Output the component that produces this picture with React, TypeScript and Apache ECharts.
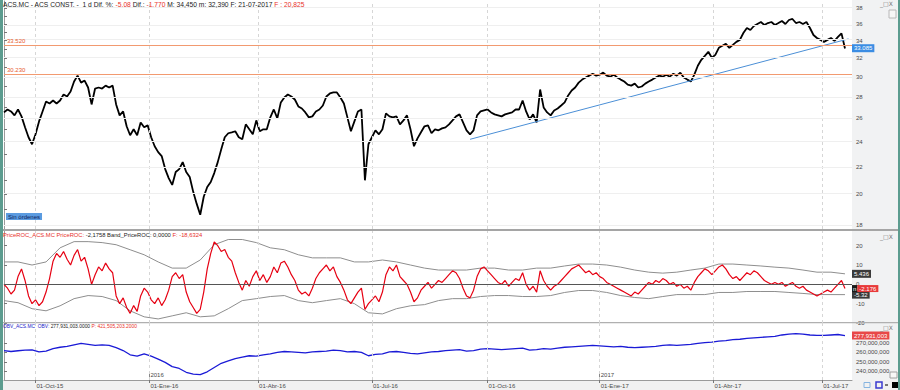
import React, { useEffect, useRef } from 'react';
import * as echarts from 'echarts';

const FONT = '"Liberation Sans", Arial, sans-serif';

// X axis (trading-day index)
const quarterIdx = [18, 83, 145, 210, 276, 340, 405, 467];
const quarterLabels = ['01-Oct-15', '01-Ene-16', '01-Abr-16', '01-Jul-16', '01-Oct-16', '01-Ene-17', '01-Abr-17', '01-Jul-17'];
const yearIdx = [83, 340];
const yearLabels = ['2016', '2017'];

// Price (close, every 2 trading days)
const priceStep = 2;
const priceClose = [
  26.54, 26.81, 26.63, 26.27, 26.81, 26.18, 25.21, 24.36, 23.78, 24.61,
  25.73, 26.63, 27.56, 27.37, 27.65, 27.37, 27.65, 28.23, 28.04, 28.52,
  29.52, 30.13, 29.41, 29.62, 28.92, 27.28, 28.82, 28.92, 28.82, 29.11,
  28.92, 29.11, 27.28, 26.27, 26.63, 25.30, 24.53, 25.04, 24.53, 25.64,
  25.21, 25.38, 24.36, 23.62, 23.14, 22.83, 21.83, 21.16, 20.67, 21.61,
  21.83, 22.36, 21.61, 21.24, 20.18, 19.36, 18.65, 19.84, 20.52, 20.88,
  21.53, 22.36, 23.38, 24.36, 24.70, 24.78, 24.87, 24.36, 24.19, 25.47,
  25.04, 24.61, 25.82, 24.87, 25.04, 25.04, 26.09, 26.81, 26.00, 27.47,
  27.94, 28.23, 28.04, 27.75, 27.09, 26.90, 26.54, 26.09, 26.18, 26.63,
  26.81, 27.18, 28.04, 28.33, 28.43, 28.43, 27.94, 27.37, 26.09, 24.87,
  25.73, 26.63, 26.81, 21.00, 23.78, 24.36, 24.95, 24.61, 25.04, 26.45,
  26.18, 26.09, 26.18, 25.47, 25.82, 26.27, 25.04, 23.62, 24.27, 24.78,
  25.30, 25.38, 24.70, 25.04, 24.95, 25.12, 25.21, 25.47, 25.82, 26.18,
  26.36, 25.64, 24.95, 24.61, 24.95, 26.27, 26.63, 26.72, 26.81, 26.54,
  26.36, 26.27, 26.18, 26.36, 26.45, 26.54, 26.81, 26.81, 27.65, 26.63,
  25.91, 26.36, 25.64, 28.72, 27.00, 26.54, 26.27, 26.72, 26.90, 27.18,
  27.47, 28.14, 28.62, 28.92, 29.41, 29.72, 29.93, 30.13, 30.33, 30.13,
  30.23, 30.44, 30.13, 30.02, 30.23, 29.93, 29.72, 29.52, 29.21, 29.11,
  29.31, 28.92, 29.02, 29.31, 29.52, 29.72, 29.93, 30.13, 30.02, 30.23,
  30.02, 30.33, 30.13, 30.44, 29.93, 29.72, 29.52, 30.23, 31.17, 31.82,
  32.26, 32.71, 32.04, 32.37, 33.16, 33.39, 33.62, 33.16, 33.50, 33.85,
  34.08, 34.90, 35.51, 35.26, 35.75, 36.00, 36.25, 35.88, 36.12, 36.25,
  35.88, 36.12, 36.38, 36.00, 36.50, 36.63, 36.12, 36.25, 36.00, 36.25,
  35.51, 34.66, 34.31, 34.08, 33.85, 34.08, 34.31, 33.96, 34.43, 34.86, 33.085,
];
const priceTicks = [18, 20, 22, 24, 26, 28, 30, 32, 34, 36, 38];
const priceMinorTicks = [19, 21, 23, 25, 27, 29, 31, 33, 35, 37];
const priceLevels = [33.52, 30.23];
const trendIdx = [266, 482];
const trendPrice = [24.19, 34.2];
const lastPrice = 33.085;

// PriceROC (every 2 trading days) and its bands (every 8)
const rocStep = 2;
const rocValues = [
  0, -2, -5, -3, 4, 8, 2, -6, -10, -8,
  -11, -9, -4, 3, 12, 16, 14, 17, 13, 10,
  15, 18, 12, 14, 8, 0, 5, 9, 7, 11,
  8, 6, -6, -10, -7, -12, -15, -11, -14, -6,
  -2, -4, -8, -10, -7, -11, -8, -3, 4, 6,
  3, 5, -4, -9, -12, -15, -13, -4, 8, 16,
  22, 20, 17, 18, 14, 12, 6, 1, -3, 2,
  -1, 4, 7, 2, 5, 1, 4, 9, 6, 11,
  12, 9, 5, 2, -3, -5, -4, -6, -2, 3,
  6, 8, 10, 7, 9, 4, 1, -3, -8, -10,
  -7, -4, -2, -13, -10, -8, -6, -9, -4, 5,
  9, 7, 10, 4, 2, 0, -4, -9, -7, -3,
  -1, 1, -2, 0, 2, 1, 3, 5, 7, 6,
  3, -2, -6, -7, -3, 4, 8, 9, 7, 5,
  3, 1, 0, 2, -1, 1, 3, 2, 6, 0,
  -3, -1, -4, 7, 2, -1, -3, -1, 0, 2,
  4, 6, 8, 9, 10, 8, 6, 7, 5, 6,
  4, 3, 1, 0, -1, -2, -3, -4, -5, -6,
  -4, -5, -3, -1, 1, 0, 2, 1, 3, 2,
  0, 1, -1, 0, -2, -1, -3, 1, 4, 6,
  8, 7, 5, 7, 9, 10, 8, 5, 3, 4,
  2, 4, 6, 5, 7, 6, 4, 2, 1, 0,
  1, 0, 1, -1, 0, 1, -1, -2, -1, -3,
  -4, -5, -6, -5, -4, -3, -4, -2, 0, 2, -2.176,
];
const bandStep = 8;
const bandUpper = [
  11.6, 11.6, 10.0, 11.6, 18.9, 22.1, 22.1, 21.6, 20.5, 17.9,
  15.3, 11.6, 8.4, 8.4, 12.6, 20.5, 23.2, 23.2, 21.6, 18.9,
  17.9, 15.3, 13.7, 13.7, 13.7, 11.6, 11.6, 12.6, 11.6, 10.0,
  8.4, 7.4, 7.4, 7.4, 8.4, 8.4, 7.4, 7.4, 8.4, 8.4,
  9.5, 10.5, 10.5, 10.0, 8.9, 7.4, 6.3, 5.8, 6.3, 7.4,
  8.4, 10.5, 10.5, 10.0, 9.5, 8.9, 8.4, 7.4, 6.3, 6.3, 5.436,
];
const bandLower = [
  -8.4, -9.5, -12.6, -13.7, -11.1, -7.4, -5.8, -6.3, -8.4, -13.7,
  -16.8, -17.9, -16.3, -14.7, -16.8, -16.3, -12.6, -8.4, -7.4, -6.3,
  -5.8, -8.4, -9.5, -8.4, -7.4, -10.0, -14.7, -15.3, -12.6, -11.1,
  -10.5, -8.4, -7.4, -7.4, -6.3, -5.8, -5.8, -6.3, -6.3, -5.8,
  -4.2, -3.2, -3.2, -4.2, -5.8, -6.8, -7.4, -6.3, -5.3, -5.3,
  -5.3, -4.2, -4.2, -3.7, -3.7, -3.7, -4.2, -4.7, -5.3, -5.3, -5.32,
];
const rocTicks = [-20, -10, 0, 10, 20];

// OBV in millions (every 4 trading days)
const obvStep = 4;
const obvMillions = [
  262.0, 261.0, 261.8, 262.5, 262.8, 260.5, 261.5, 264.0, 265.5, 266.5,
  268.0, 269.5, 268.5, 267.5, 268.0, 267.5, 265.0, 262.0, 257.5, 256.0,
  258.5, 256.0, 253.0, 249.5, 245.0, 243.0, 239.0, 237.0, 236.5, 239.5,
  244.0, 248.5, 251.0, 253.5, 255.0, 256.5, 256.0, 257.5, 258.5, 260.0,
  261.0, 260.5, 260.0, 259.5, 260.5, 261.0, 261.5, 262.5, 262.0, 260.5,
  261.0, 260.0, 256.5, 258.0, 258.5, 260.5, 261.0, 260.0, 259.0, 258.5,
  259.5, 260.5, 261.0, 262.0, 262.5, 263.0, 261.5, 262.0, 263.5, 264.0,
  263.5, 263.0, 263.5, 264.0, 264.5, 262.5, 263.0, 264.0, 263.5, 264.5,
  265.5, 266.0, 266.5, 267.0, 267.5, 267.0, 266.5, 266.0, 266.5, 265.5,
  265.0, 265.5, 266.0, 266.5, 267.5, 268.0, 267.5, 268.0, 268.5, 269.5,
  270.5, 271.0, 272.0, 272.5, 273.5, 274.0, 275.0, 275.5, 276.0, 276.5,
  277.0, 278.5, 279.5, 280.0, 279.5, 278.5, 278.0, 278.0, 278.5, 279.0, 277.931003,
];
const obvTicks = [240, 250, 260, 270];

const L = Math.log;
const X_MAX = 484;

const badge = (text: string, bg: string) => ({
  show: true,
  position: 'end',
  distance: 0,
  formatter: text,
  color: '#ffffff',
  backgroundColor: bg,
  padding: [1, 2, 0, 2],
  fontSize: 6,
  fontFamily: FONT,
  lineHeight: 7,
});
const clearLine = { color: 'rgba(0,0,0,0)', width: 0 };
const vGrid = quarterIdx.map((v) => ({ xAxis: v, lineStyle: { color: '#d6d6d6', type: [3, 3], width: 1 } }));

const axisLabelBase = { fontSize: 6, color: '#4a4a4a', fontFamily: FONT, margin: 4 };

export default function App() {
  const ref = useRef<HTMLDivElement>(null);
  useEffect(() => {
    if (!ref.current) return;
    const chart = echarts.init(ref.current, undefined, { renderer: 'svg' });
    const yAxisCommon = {
      type: 'value',
      position: 'right',
      axisLine: { show: true, lineStyle: { color: '#9a9a9a', width: 1 } },
      splitLine: { show: false },
    };
    const option: any = {
      animation: false,
      backgroundColor: '#ffffff',
      textStyle: { fontFamily: FONT },
      grid: [
        { left: 4, right: 48, top: 1, height: 228, outerBoundsMode: 'none' },
        { left: 4, right: 48, top: 231, height: 92, outerBoundsMode: 'none' },
        { left: 4, right: 48, top: 323, height: 57, outerBoundsMode: 'none' },
      ],
      xAxis: [
        { gridIndex: 0, type: 'value', min: 0, max: X_MAX, show: false },
        { gridIndex: 1, type: 'value', min: 0, max: X_MAX, show: false },
        {
          gridIndex: 2, type: 'value', min: 0, max: X_MAX, position: 'bottom',
          axisLine: { show: true, lineStyle: { color: '#9a9a9a' } },
          axisTick: { show: true, customValues: quarterIdx, length: 3, lineStyle: { color: '#777' } },
          axisLabel: {
            ...axisLabelBase, margin: 3, align: 'left', padding: [0, 0, 0, 1],
            customValues: quarterIdx,
            formatter: (v: number) => quarterLabels[quarterIdx.indexOf(Math.round(v))] || '',
          },
          splitLine: { show: false },
        },
        {
          gridIndex: 2, type: 'value', min: 0, max: X_MAX, position: 'bottom',
          axisLine: { show: false },
          axisTick: { show: true, inside: true, customValues: yearIdx, length: 6, lineStyle: { color: '#888' } },
          axisLabel: {
            ...axisLabelBase, inside: true, margin: 2, align: 'left', padding: [0, 0, 0, 1],
            customValues: yearIdx,
            formatter: (v: number) => yearLabels[yearIdx.indexOf(Math.round(v))] || '',
          },
          splitLine: { show: false },
        },
      ],
      yAxis: [
        {
          ...yAxisCommon, gridIndex: 0,
          min: L(36) - 205 / 290, max: L(36) + 23 / 290,
          axisTick: { show: true, customValues: [...priceTicks, ...priceMinorTicks].map(L), length: 3, lineStyle: { color: '#777' } },
          axisLabel: { ...axisLabelBase, customValues: priceTicks.map(L), formatter: (v: number) => String(Math.round(Math.exp(v))) },
        },
        {
          ...yAxisCommon, gridIndex: 1, min: -20, max: 27.6,
          axisTick: { show: true, customValues: rocTicks, length: 3, lineStyle: { color: '#777' } },
          axisLabel: { ...axisLabelBase, customValues: rocTicks, formatter: (v: number) => String(v) },
        },
        {
          ...yAxisCommon, gridIndex: 2, min: 230.8, max: 291.2,
          axisTick: { show: true, customValues: obvTicks, length: 3, lineStyle: { color: '#777' } },
          axisLabel: { ...axisLabelBase, customValues: obvTicks, formatter: (v: number) => (v * 1e6).toLocaleString('en-US') },
        },
      ],
      series: [
        {
          name: 'priceGrid', type: 'line', xAxisIndex: 0, yAxisIndex: 0, z: 1, silent: true,
          data: [[0, L(26)]], symbol: 'none', lineStyle: { width: 0 },
          markLine: {
            silent: true, symbol: ['none', 'none'], label: { show: false },
            data: [
              ...vGrid,
              ...priceTicks.map((t) => ({ yAxis: L(t), lineStyle: { color: '#efefef', type: 'solid', width: 1 } })),
            ],
          },
        },
        {
          name: 'ACS.MC', type: 'line', xAxisIndex: 0, yAxisIndex: 0, z: 3,
          data: priceClose.map((p, k) => [k * priceStep, L(p)]),
          symbol: 'none', lineStyle: { color: '#000000', width: 1.8 },
          markLine: {
            silent: true, symbol: ['none', 'none'],
            data: [
              ...priceLevels.map((p) => ({
                yAxis: L(p),
                lineStyle: { color: '#f29a70', width: 1, type: 'solid' },
                label: { show: true, position: 'insideStartTop', distance: 1, formatter: p.toFixed(3), color: '#e8592c', fontSize: 6, fontFamily: FONT, padding: [0, 0, 0, 2] },
              })),
              { yAxis: L(lastPrice), lineStyle: clearLine, label: badge(lastPrice.toFixed(3), '#3b8de3') },
            ],
          },
        },
        {
          name: 'trend', type: 'line', xAxisIndex: 0, yAxisIndex: 0, z: 4,
          data: trendIdx.map((x, i) => [x, L(trendPrice[i])]),
          symbol: 'none', lineStyle: { color: '#4b8fd6', width: 1 },
        },
        {
          name: 'rocGrid', type: 'line', xAxisIndex: 1, yAxisIndex: 1, z: 1, silent: true,
          data: [[0, 0]], symbol: 'none', lineStyle: { width: 0 },
          markLine: {
            silent: true, symbol: ['none', 'none'], label: { show: false },
            data: [...vGrid, { yAxis: 0, lineStyle: { color: '#555555', width: 1, type: 'solid' } }],
          },
        },
        {
          name: 'BandUp', type: 'line', xAxisIndex: 1, yAxisIndex: 1, z: 2,
          data: bandUpper.map((v, j) => [j * bandStep, v]),
          symbol: 'none', lineStyle: { color: '#8e8e8e', width: 1 },
          markLine: { silent: true, symbol: ['none', 'none'], data: [{ yAxis: bandUpper[bandUpper.length - 1], lineStyle: clearLine, label: badge('5.436', '#3a3a3a') }] },
        },
        {
          name: 'BandLow', type: 'line', xAxisIndex: 1, yAxisIndex: 1, z: 2,
          data: bandLower.map((v, j) => [j * bandStep, v]),
          symbol: 'none', lineStyle: { color: '#8e8e8e', width: 1 },
          markLine: { silent: true, symbol: ['none', 'none'], data: [{ yAxis: bandLower[bandLower.length - 1], lineStyle: clearLine, label: badge('-5.32', '#3a3a3a') }] },
        },
        {
          name: 'PriceROC', type: 'line', xAxisIndex: 1, yAxisIndex: 1, z: 3,
          data: rocValues.map((v, k) => [k * rocStep, v]),
          symbol: 'none', lineStyle: { color: '#e60012', width: 1.2 },
          markLine: {
            silent: true, symbol: ['none', 'none'],
            data: [{
              yAxis: rocValues[rocValues.length - 1], lineStyle: clearLine,
              label: {
                show: true, position: 'end', distance: 0, fontSize: 6, fontFamily: FONT,
                formatter: '{n|n}{v|-2.176}',
                rich: {
                  n: { backgroundColor: '#1a1a1a', color: '#fff', fontSize: 6, padding: [1, 1, 0, 1], fontFamily: FONT },
                  v: { backgroundColor: '#e83a3a', color: '#fff', fontSize: 6, padding: [1, 2, 0, 2], fontFamily: FONT },
                },
              },
            }],
          },
        },
        {
          name: 'obvGrid', type: 'line', xAxisIndex: 2, yAxisIndex: 2, z: 1, silent: true,
          data: [[0, 260]], symbol: 'none', lineStyle: { width: 0 },
          markLine: { silent: true, symbol: ['none', 'none'], label: { show: false }, data: vGrid },
        },
        {
          name: 'OBV', type: 'line', xAxisIndex: 2, yAxisIndex: 2, z: 3,
          data: obvMillions.map((v, m) => [m * obvStep, v]),
          symbol: 'none', lineStyle: { color: '#1a1ad6', width: 1.3 },
          markLine: {
            silent: true, symbol: ['none', 'none'],
            data: [{ yAxis: obvMillions[obvMillions.length - 1], lineStyle: clearLine, label: badge('277,931,003', '#e84848') }],
          },
        },
      ],
      graphic: [
        { type: 'rect', z: -10, shape: { x: 852, y: 0, width: 46, height: 380 }, style: { fill: '#f1f2f3' } },
        { type: 'rect', z: -10, shape: { x: 0, y: 380, width: 900, height: 10 }, style: { fill: '#f1f1f1' } },
        { type: 'rect', z: 10, shape: { x: 0, y: 0, width: 3, height: 390 }, style: { fill: '#5c9c8f' } },
        { type: 'rect', z: 10, shape: { x: 898, y: 0, width: 2, height: 390 }, style: { fill: '#5c9c8f' } },
        { type: 'rect', z: 5, shape: { x: 3, y: 229, width: 895, height: 2 }, style: { fill: '#a5a5a5' } },
        { type: 'rect', z: 5, shape: { x: 3, y: 322, width: 895, height: 1.2 }, style: { fill: '#b0b0b0' } },
        {
          type: 'text', z: 6, left: 3, top: 1,
          style: {
            text: 'ACS.MC - ACS CONST. -  1 d Dif. %: {r|-5.08} Dif.: {r|-1.770} M: 34,450 m: 32,390 F: 21-07-2017 {r|F : 20,825}',
            fill: '#1a1a1a', fontSize: 6.7, fontFamily: FONT,
            rich: { r: { fill: '#e8302a', fontSize: 6.7, fontFamily: FONT } },
          },
        },
        {
          type: 'text', z: 6, left: 3, top: 232,
          style: {
            text: '{r|PriceROC_ACS.MC PriceROC:} -2,1758 Band_PriceROC: 0,0000 {r|F: -18,6324}',
            fill: '#1a1a1a', fontSize: 5.8, fontFamily: FONT,
            rich: { r: { fill: '#e8302a', fontSize: 5.8, fontFamily: FONT } },
          },
        },
        {
          type: 'text', z: 6, left: 3, top: 324,
          style: {
            text: '{b|OBV_ACS.MC  OBV:} 277,931,003.0000 {r|P: 421,505,203.2000}',
            fill: '#1a1a1a', fontSize: 4.9, fontFamily: FONT,
            rich: { r: { fill: '#e8302a', fontSize: 4.9, fontFamily: FONT }, b: { fill: '#2020c8', fontSize: 4.9, fontFamily: FONT } },
          },
        },
        {
          type: 'text', z: 6, left: 6, top: 213,
          style: { text: 'Sin órdenes', fill: '#0d1f5c', fontSize: 6, fontFamily: FONT, backgroundColor: '#5b9be0', padding: [1, 2, 0, 2] },
        },
        { type: 'text', z: 6, left: 880, top: 0, style: { text: '_□X', fill: '#777', fontSize: 6, fontFamily: '"DejaVu Sans", sans-serif' } },
        { type: 'text', z: 6, left: 880, top: 233, style: { text: '_□X', fill: '#777', fontSize: 6, fontFamily: '"DejaVu Sans", sans-serif' } },
        { type: 'text', z: 6, left: 880, top: 324, style: { text: '_□X', fill: '#777', fontSize: 6, fontFamily: '"DejaVu Sans", sans-serif' } },
        { type: 'rect', z: 6, shape: { x: 889, y: 10, width: 7, height: 8 }, style: { fill: '#f7f7f7', stroke: '#b8b8b8', lineWidth: 1 } },
        { type: 'rect', z: 6, shape: { x: 890, y: 372, width: 7, height: 6 }, style: { fill: '#f7f7f7', stroke: '#a0a0a0', lineWidth: 1 } },
        { type: 'rect', z: 6, shape: { x: 864, y: 382.5, width: 6, height: 5 }, style: { fill: 'none', stroke: '#86b4e0', lineWidth: 1 } },
        { type: 'rect', z: 6, shape: { x: 876, y: 382, width: 6, height: 6 }, style: { fill: 'none', stroke: '#3a3ad0', lineWidth: 1.5 } },
        { type: 'rect', z: 6, shape: { x: 885, y: 384, width: 3, height: 2 }, style: { fill: '#777' } },
        { type: 'rect', z: 6, shape: { x: 892, y: 382, width: 6, height: 6 }, style: { fill: '#000' } },
      ],
    };
    chart.setOption(option);
    return () => chart.dispose();
  }, []);
  return <div ref={ref} style={{ position: 'fixed', left: 0, top: 0, width: 900, height: 390 }} />;
}
